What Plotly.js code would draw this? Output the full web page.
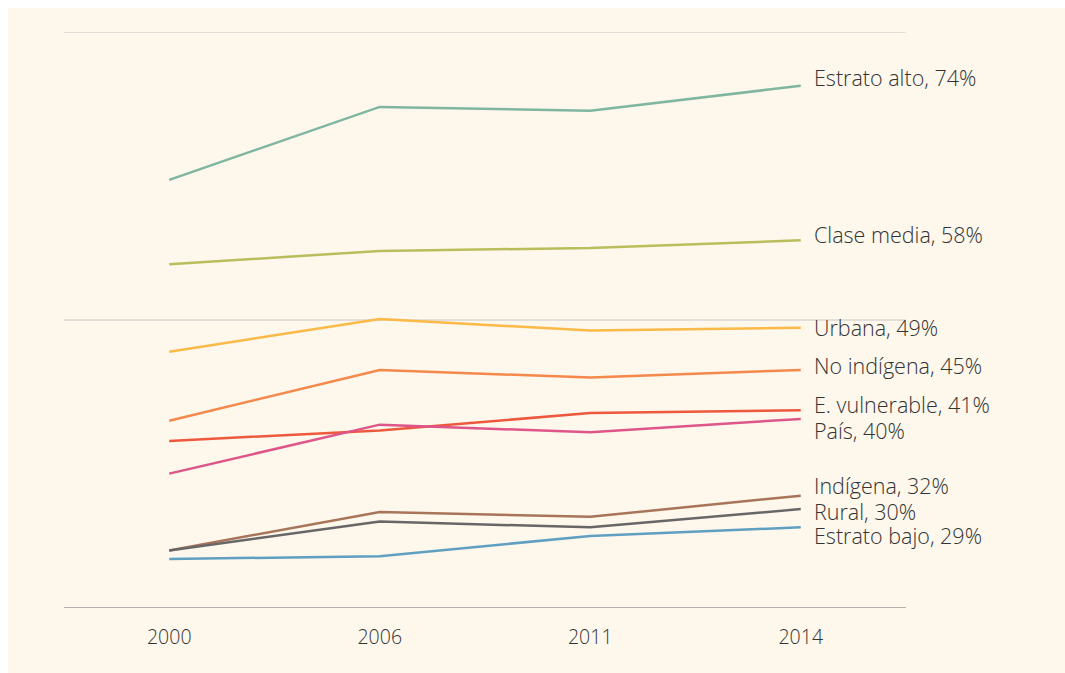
<!DOCTYPE html>
<html>
<head>
<meta charset="utf-8">
<script src="https://cdn.plot.ly/plotly-3.0.1.min.js"></script>
<style>
  html, body { margin: 0; padding: 0; background: #ffffff; }
  #chart { position: absolute; left: 8px; top: 8px; width: 1057px; height: 665px; }
</style>
</head>
<body>
<div id="chart"></div>
<script>
const years = ['2000', '2006', '2011', '2014'];

const seriesNames = ['Estrato alto', 'Clase media', 'Urbana', 'No indígena', 'E. vulnerable', 'País', 'Indígena', 'Rural', 'Estrato bajo'];
const labelPct = ['74%', '58%', '49%', '45%', '41%', '40%', '32%', '30%', '29%'];

const estratoAlto   = [64.6, 72.2, 71.8, 74.4];
const claseMedia    = [55.8, 57.2, 57.5, 58.3];
const urbana        = [46.7, 50.1, 48.9, 49.2];
const noIndigena    = [39.5, 44.8, 44.0, 44.8];
const eVulnerable   = [37.4, 38.5, 40.3, 40.6];
const pais          = [34.0, 39.1, 38.3, 39.7];
const indigena      = [26.0, 30.0, 29.5, 31.7];
const rural         = [26.0, 29.0, 28.4, 30.3];
const estratoBajo   = [25.1, 25.4, 27.5, 28.4];

const seriesValues = [estratoAlto, claseMedia, urbana, noIndigena, eVulnerable, pais, indigena, rural, estratoBajo];
const colors = ['#7fb6a0', '#b9bd5b', '#fbb947', '#f5884b', '#ee583c', '#de558a', '#a8755a', '#676767', '#5f9fc0'];
// label vertical nudges (pixels, positive = up) to avoid overlap
const labelShift = [8, 6, 0, 4, 6, -12, 10, -2, -8];

const traces = seriesValues.map((vals, i) => ({
  x: years,
  y: vals,
  type: 'scatter',
  mode: 'lines',
  name: seriesNames[i],
  line: { color: colors[i], width: 2.5 },
  hoverinfo: 'x+y+name'
}));

const lastIdx = years.length - 1;
const annotations = seriesValues.map((vals, i) => ({
  x: lastIdx,
  y: vals[lastIdx],
  xref: 'x', yref: 'y',
  text: seriesNames[i] + ', ' + labelPct[i],
  showarrow: false,
  xanchor: 'left',
  yanchor: 'middle',
  xshift: 12,
  yshift: labelShift[i],
  borderpad: 0,
  font: { family: 'Open Sans, Lato, sans-serif', size: 21.5, weight: 300, color: '#333333' }
}));

const layout = {
  width: 1057,
  height: 665,
  paper_bgcolor: '#fdf7ec',
  plot_bgcolor: '#fdf7ec',
  margin: { l: 56, r: 159, t: 24, b: 65 },
  showlegend: false,
  xaxis: {
    type: 'category',
    range: [-0.5, 3.5],
    showgrid: false,
    zeroline: false,
    showline: false,
    ticks: 'outside',
    ticklen: 12,
    tickcolor: 'rgba(0,0,0,0)',
    tickfont: { family: 'Open Sans, Lato, sans-serif', size: 19.5, weight: 300, color: '#333333' },
    fixedrange: true
  },
  yaxis: {
    range: [20, 80],
    tickvals: [20, 50, 80],
    showticklabels: false,
    showgrid: false,
    zeroline: false,
    showline: false,
    fixedrange: true
  },
  shapes: [
    { type: 'line', xref: 'paper', yref: 'y', x0: 0, x1: 1, y0: 80, y1: 80, layer: 'below',
      line: { color: '#c8c8c8', width: 1 } },
    { type: 'line', xref: 'paper', yref: 'y', x0: 0, x1: 1, y0: 50, y1: 50, layer: 'below',
      line: { color: '#c8c8c8', width: 1 } },
    { type: 'line', xref: 'paper', yref: 'y', x0: 0, x1: 1, y0: 20, y1: 20, layer: 'below',
      line: { color: '#999999', width: 1.5 } }
  ],
  annotations: annotations
};

Plotly.newPlot('chart', traces, layout, { displayModeBar: false });
</script>
</body>
</html>
